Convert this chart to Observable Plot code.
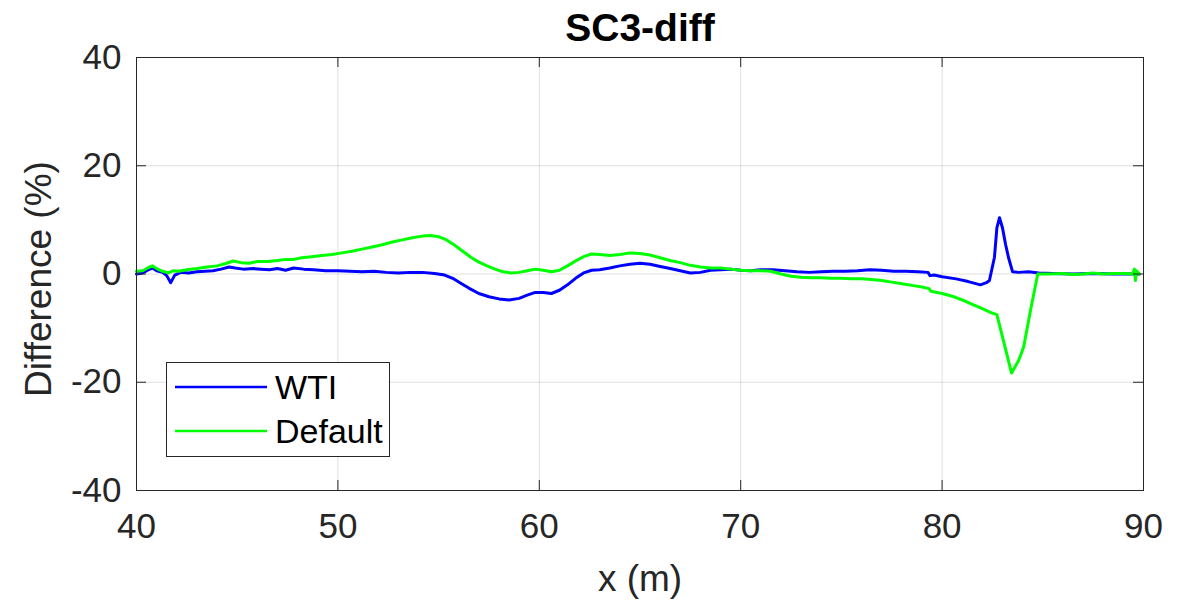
<!DOCTYPE html>
<html><head><meta charset="utf-8">
<script src="https://cdn.jsdelivr.net/npm/d3@7"></script>
<script src="https://cdn.jsdelivr.net/npm/@observablehq/plot@0.6"></script>
<style>
body{margin:0;background:#fff;}
#chart{position:relative;width:1186px;height:602px;}
</style>
</head><body><div id="chart"></div>
<script>
const titleText = "SC3-diff";
const xLabel = "x (m)";
const yLabel = "Difference (%)";
const xTicks = [40, 50, 60, 70, 80, 90];
const yTicks = [-40, -20, 0, 20, 40];
const seriesNames = ["WTI", "Default"];
const seriesColors = ["#0000ff", "#00ff00"];

const wtiX = [40.0,40.3,40.6,40.8,41.0,41.3,41.5,41.7,41.9,42.2,42.6,43.0,43.4,43.8,44.2,44.6,44.9,45.3,45.8,46.2,46.6,47.0,47.4,47.8,48.3,48.8,49.4,50.0,50.6,51.2,51.8,52.4,53.0,53.6,54.2,54.8,55.3,55.7,56.1,56.5,57.0,57.5,58.0,58.5,59.0,59.4,59.8,60.2,60.6,61.0,61.4,61.8,62.2,62.6,63.0,63.5,64.0,64.5,65.0,65.5,66.0,66.5,67.0,67.5,68.0,68.5,69.0,69.5,70.0,70.5,71.0,71.6,72.2,72.8,73.4,74.0,74.6,75.2,75.8,76.4,77.0,77.6,78.2,78.8,79.3,79.4,79.6,80.0,80.7,81.3,81.9,82.2,82.35,82.6,82.72,82.85,83.0,83.15,83.3,83.5,83.8,84.3,84.8,85.5,86.5,87.5,88.5,89.8];
const wtiY = [0.0,0.2,0.8,1.1,0.6,0.3,-0.3,-1.6,-0.2,0.3,0.2,0.4,0.5,0.6,0.9,1.3,1.1,0.9,1.0,0.9,0.8,1.0,0.7,1.1,0.9,0.8,0.6,0.6,0.5,0.4,0.5,0.3,0.2,0.3,0.3,0.1,-0.2,-0.8,-1.7,-2.6,-3.6,-4.2,-4.6,-4.8,-4.5,-3.9,-3.4,-3.4,-3.6,-3.0,-2.0,-0.8,0.2,0.7,0.8,1.1,1.5,1.8,2.0,1.8,1.4,1.0,0.6,0.2,0.3,0.7,0.8,0.9,0.7,0.6,0.8,0.8,0.6,0.4,0.3,0.4,0.5,0.5,0.6,0.8,0.7,0.5,0.5,0.4,0.3,-0.3,-0.2,-0.5,-0.9,-1.4,-2.0,-1.6,-1.2,3.1,8.5,10.4,8.5,5.5,3.0,0.4,0.3,0.4,0.2,0.1,0.0,0.1,0.0,0.0];

const defX = [40.0,40.3,40.6,40.8,41.0,41.3,41.6,41.8,42.1,42.5,43.0,43.5,44.0,44.4,44.8,45.2,45.6,46.0,46.5,47.0,47.4,47.8,48.2,48.7,49.2,49.7,50.2,50.7,51.2,51.7,52.2,52.7,53.2,53.7,54.2,54.6,55.0,55.4,55.8,56.2,56.6,57.0,57.4,57.8,58.2,58.6,59.0,59.4,59.8,60.2,60.6,61.0,61.4,61.8,62.2,62.6,63.0,63.5,64.0,64.5,65.0,65.5,66.0,66.5,67.0,67.5,68.0,68.5,69.0,69.5,70.0,70.5,71.0,71.5,72.0,72.5,73.0,73.5,74.0,74.5,75.0,75.5,76.0,76.5,77.0,77.5,78.0,78.5,79.0,79.35,79.45,80.0,80.5,81.0,81.5,82.0,82.4,82.72,83.45,83.8,84.05,84.4,84.75,85.3,86.0,86.5,87.0,87.5,88.0,88.5,89.0,89.45,89.55,89.6,89.65,89.8];
const defY = [0.5,0.6,1.2,1.5,1.0,0.5,0.2,0.6,0.5,0.8,1.0,1.3,1.5,1.9,2.4,2.1,2.0,2.3,2.3,2.5,2.7,2.7,3.0,3.2,3.4,3.6,3.9,4.2,4.6,5.0,5.4,5.9,6.3,6.7,7.0,7.1,6.9,6.3,5.3,4.2,3.1,2.2,1.5,0.9,0.4,0.2,0.3,0.6,0.9,0.7,0.4,0.7,1.5,2.4,3.2,3.7,3.6,3.4,3.6,3.9,3.8,3.5,3.0,2.5,2.1,1.6,1.3,1.1,1.1,0.9,0.7,0.6,0.6,0.5,0.0,-0.4,-0.6,-0.7,-0.7,-0.8,-0.8,-0.9,-0.9,-1.0,-1.2,-1.5,-1.8,-2.1,-2.4,-2.7,-3.2,-3.6,-4.1,-4.8,-5.6,-6.4,-7.1,-7.5,-18.3,-16.0,-13.5,-6.5,0.0,0.0,0.1,-0.1,0.0,0.2,0.0,0.1,0.1,0.0,0.9,-1.2,0.6,0.0];

const wti = wtiX.map((x, i) => ({x, y: wtiY[i], s: seriesNames[0]}));
const def = defX.map((x, i) => ({x, y: defY[i], s: seriesNames[1]}));

const W = 1186, H = 602, ML = 136, MR = 43, MT = 57, MB = 112;
const FW = W - ML - MR, FH = H - MT - MB, TL = 10;
const axisColor = "#262626";
const font = "'Liberation Sans', Arial, Helvetica, sans-serif";

const chart = Plot.plot({
  width: W, height: H,
  marginLeft: ML, marginRight: MR, marginTop: MT, marginBottom: MB,
  style: {fontFamily: font, background: "#fff", color: axisColor, overflow: "visible"},
  x: {domain: [40, 90]},
  y: {domain: [-40, 40]},
  marks: [
    Plot.gridX(xTicks, {stroke: axisColor, strokeOpacity: 0.15, strokeWidth: 1}),
    Plot.gridY(yTicks, {stroke: axisColor, strokeOpacity: 0.15, strokeWidth: 1}),
    Plot.line(wti, {x: "x", y: "y", stroke: seriesColors[0], strokeWidth: 3}),
    Plot.line(def, {x: "x", y: "y", stroke: seriesColors[1], strokeWidth: 3}),
    Plot.tickX(xTicks, {x: d => d, insetTop: FH - TL, stroke: axisColor}),
    Plot.tickX(xTicks, {x: d => d, insetBottom: FH - TL, stroke: axisColor}),
    Plot.tickY(yTicks, {y: d => d, insetRight: FW - TL, stroke: axisColor}),
    Plot.tickY(yTicks, {y: d => d, insetLeft: FW - TL, stroke: axisColor}),
    Plot.frame({stroke: axisColor, strokeWidth: 1}),
    Plot.axisX(xTicks, {tickSize: 0, tickPadding: 23, fontSize: 35, label: null, tickFormat: d => String(d), fill: axisColor}),
    Plot.axisY(yTicks, {tickSize: 0, tickPadding: 15, fontSize: 35, label: null, tickFormat: d => String(d), fill: axisColor}),
    Plot.text([xLabel], {frameAnchor: "bottom", dy: 89, lineAnchor: "middle", textAnchor: "middle", fontSize: 37, fill: axisColor}),
    Plot.text([yLabel], {frameAnchor: "left", dx: -97, dy: 5, rotate: -90, lineAnchor: "middle", textAnchor: "middle", fontSize: 37, fill: axisColor}),
    Plot.text([titleText], {frameAnchor: "top", dy: -29, lineAnchor: "middle", textAnchor: "middle", fontSize: 39, fontWeight: "bold", fill: "#000"})
  ]
});
document.getElementById("chart").appendChild(chart);

// legend box (MATLAB-style, inside the axes)
const svg = d3.select(chart);
const lg = svg.append("g").attr("font-family", font).attr("text-anchor", "start");
lg.append("rect").attr("x", 166.5).attr("y", 362.5).attr("width", 223).attr("height", 94)
  .attr("fill", "#fff").attr("stroke", axisColor).attr("stroke-width", 1);
seriesNames.forEach((name, i) => {
  const cy = 387 + i * 44;
  lg.append("line").attr("x1", 175).attr("x2", 267).attr("y1", cy).attr("y2", cy)
    .attr("stroke", seriesColors[i]).attr("stroke-width", 2.6);
  lg.append("text").attr("x", 275).attr("y", cy).attr("dy", "0.35em")
    .attr("text-anchor", "start").attr("font-size", 34).attr("fill", "#000").text(name);
});
</script>
</body></html>
